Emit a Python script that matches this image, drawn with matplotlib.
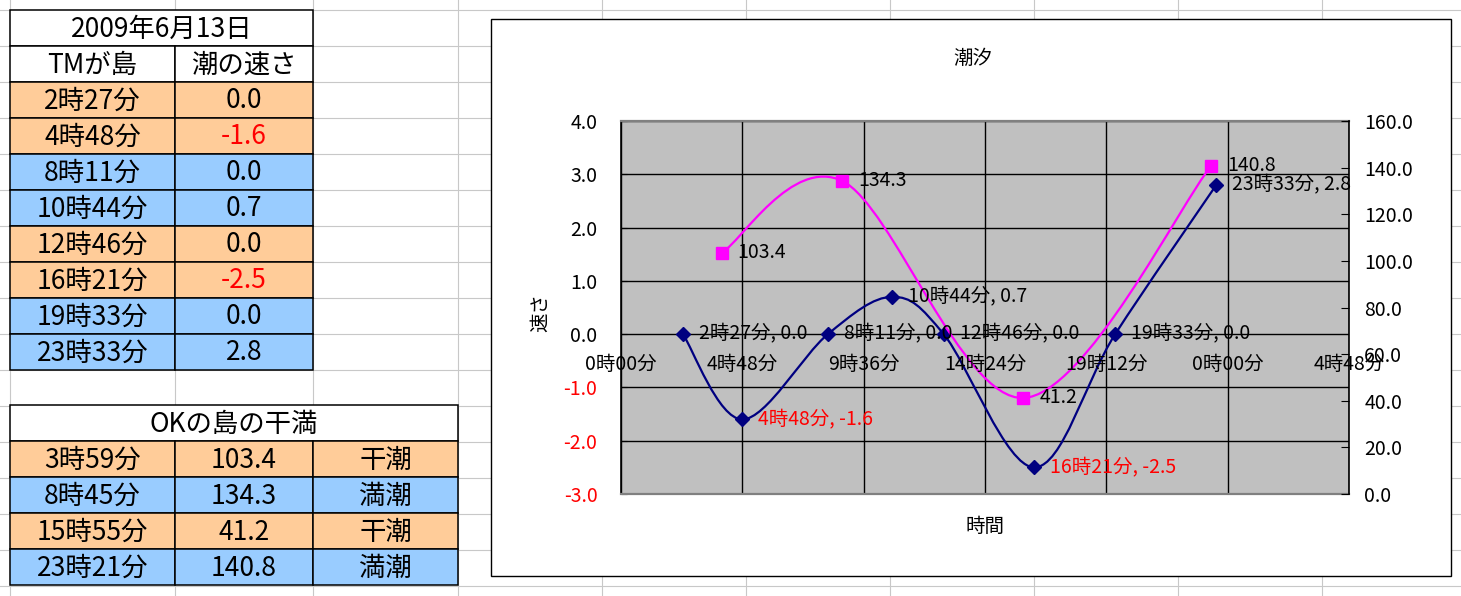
import re
import matplotlib
matplotlib.use('Agg')
import matplotlib.pyplot as plt
from matplotlib.patches import Rectangle, PathPatch
from matplotlib.path import Path

plt.rcParams['font.family'] = ['Noto Sans CJK JP', 'DejaVu Sans']
plt.rcParams['axes.unicode_minus'] = False

# ---------------- data ----------------
date_title = '2009年6月13日'
speed_header = ['TMが島', '潮の速さ']
speed_times = ['2時27分', '4時48分', '8時11分', '10時44分', '12時46分', '16時21分', '19時33分', '23時33分']
speed_values = [0.0, -1.6, 0.0, 0.7, 0.0, -2.5, 0.0, 2.8]
speed_row_kind = ['o', 'o', 'b', 'b', 'o', 'o', 'b', 'b']

tide_title = 'OKの島の干満'
tide_times = ['3時59分', '8時45分', '15時55分', '23時21分']
tide_values = [103.4, 134.3, 41.2, 140.8]
tide_kinds = ['干潮', '満潮', '干潮', '満潮']

chart_title = '潮汐'
x_title = '時間'
y_title = '速さ'
xtick_hours = [0, 4.8, 9.6, 14.4, 19.2, 24.0, 28.8]
xtick_labels = ['0時00分', '4時48分', '9時36分', '14時24分', '19時12分', '0時00分', '4時48分']
left_ticks = [-3, -2, -1, 0, 1, 2, 3, 4]
right_ticks = [0, 20, 40, 60, 80, 100, 120, 140, 160]

# ---------------- helpers ----------------
ORANGE = '#FFCC99'
BLUE = '#99CCFF'
NAVY = '#000080'
MAGENTA = '#FF00FF'
RED = '#FF0000'


def hours(label):
    h, m = re.match(r'(\d+)時(\d+)分', label).groups()
    return int(h) + int(m) / 60.0


def smooth_path(xs, ys):
    pts = list(zip(xs, ys))
    n = len(pts)
    verts = [pts[0]]
    codes = [Path.MOVETO]
    for i in range(n - 1):
        p0 = pts[max(i - 1, 0)]
        p1 = pts[i]
        p2 = pts[i + 1]
        p3 = pts[min(i + 2, n - 1)]
        c1 = (p1[0] + (p2[0] - p0[0]) / 6.0, p1[1] + (p2[1] - p0[1]) / 6.0)
        c2 = (p2[0] - (p3[0] - p1[0]) / 6.0, p2[1] - (p3[1] - p1[1]) / 6.0)
        verts += [c1, c2, p2]
        codes += [Path.CURVE4] * 3
    return Path(verts, codes)


W, H = 1461, 596
fig = plt.figure(figsize=(W / 100, H / 100), dpi=100)
fig.patch.set_facecolor('white')

# background "spreadsheet" layer in pixel coordinates
bg = fig.add_axes([0, 0, 1, 1], zorder=0)
bg.set_xlim(0, W)
bg.set_ylim(H, 0)
bg.axis('off')

GRID = '#C8C8C8'
col_lines = [10, 175, 313, 458, 602, 746, 890, 1034, 1178, 1322]
row_lines = [10 + 36 * k for k in range(17)]
for x in col_lines:
    bg.plot([x, x], [0, H], color=GRID, lw=0.8, zorder=1)
for y in row_lines:
    bg.plot([0, W], [y, y], color=GRID, lw=0.8, zorder=1)

TFS = 19


def cell(x0, x1, y0, y1, fc, text=None, color='black'):
    bg.add_patch(Rectangle((x0, y0), x1 - x0, y1 - y0, facecolor=fc,
                           edgecolor='black', lw=1.1, zorder=2))
    if text is not None:
        bg.text((x0 + x1) / 2, (y0 + y1) / 2 + 1, text, ha='center', va='center',
                fontsize=TFS, color=color, zorder=3)


# table 1
cell(10, 313, 10, 46, 'white', date_title)
cell(10, 175, 46, 82, 'white', speed_header[0])
cell(175, 313, 46, 82, 'white', speed_header[1])
for i, (t, v, k) in enumerate(zip(speed_times, speed_values, speed_row_kind)):
    y0 = 82 + 36 * i
    fc = ORANGE if k == 'o' else BLUE
    cell(10, 175, y0, y0 + 36, fc, t)
    cell(175, 313, y0, y0 + 36, fc, f'{v:.1f}', RED if v < 0 else 'black')

# table 2
cell(10, 458, 405, 441, 'white', tide_title)
for i, (t, v, k) in enumerate(zip(tide_times, tide_values, tide_kinds)):
    y0 = 441 + 36 * i
    fc = ORANGE if k == '干潮' else BLUE
    cell(10, 175, y0, y0 + 36, fc, t)
    cell(175, 313, y0, y0 + 36, fc, f'{v:.1f}')
    cell(313, 458, y0, y0 + 36, fc, k)

# chart box
bg.add_patch(Rectangle((491, 19), 960, 557, facecolor='white', edgecolor='black',
                       lw=1.0, zorder=5))
CFS = 14
bg.text(973, 58, chart_title, ha='center', va='center', fontsize=CFS, zorder=6)
bg.text(541, 312, y_title, ha='center', va='center', fontsize=CFS, rotation=90, zorder=6)
bg.text(985, 526, x_title, ha='center', va='center', fontsize=CFS, zorder=6)

# ---------------- plot area ----------------
px0, px1, py0, py1 = 621, 1349, 121, 494
ax = fig.add_axes([px0 / W, (H - py1) / H, (px1 - px0) / W, (py1 - py0) / H], zorder=2)
ax.set_facecolor('#C0C0C0')
ax.set_xlim(0, 28.8)
ax.set_ylim(-3, 4)
ax.set_xticks(xtick_hours)
ax.set_yticks(left_ticks)
ax.set_yticklabels([f'{v:.1f}' for v in left_ticks], fontsize=CFS)
for lab, v in zip(ax.get_yticklabels(), left_ticks):
    lab.set_color(RED if v < 0 else 'black')
ax.tick_params(axis='x', length=0, labelbottom=False)
ax.tick_params(axis='y', direction='in', length=4, pad=17, color='black')
ax.grid(True, color='black', lw=1.0)
ax.set_axisbelow(True)
for s in ('top', 'bottom'):
    ax.spines[s].set_color('#808080')
    ax.spines[s].set_linewidth(1.6)
ax.spines['left'].set_color('black')
ax.spines['left'].set_linewidth(1.2)
ax.spines['right'].set_visible(False)

ax2 = ax.twinx()
ax2.set_ylim(0, 160)
ax2.set_yticks(right_ticks)
ax2.set_yticklabels([f'{v:.1f}' for v in right_ticks], fontsize=CFS)
ax2.tick_params(axis='y', direction='in', length=6, pad=11, color='black')
for s in ('top', 'bottom', 'left'):
    ax2.spines[s].set_visible(False)
ax2.spines['right'].set_color('black')
ax2.spines['right'].set_linewidth(1.2)

# speed series (primary)
sx = [hours(t) for t in speed_times]
ax.add_patch(PathPatch(smooth_path(sx, speed_values), facecolor='none',
                       edgecolor=NAVY, lw=1.6, zorder=3))
ax.plot(sx, speed_values, linestyle='none', marker='D', ms=7.5, color=NAVY, zorder=4)

# tide series (secondary)
tx = [hours(t) for t in tide_times]
ax2.add_patch(PathPatch(smooth_path(tx, tide_values), facecolor='none',
                        edgecolor=MAGENTA, lw=1.6, zorder=3))
ax2.plot(tx, tide_values, linestyle='none', marker='s', ms=9, color=MAGENTA, zorder=4)

# x tick labels at the y=0 crossing
for h, lab in zip(xtick_hours, xtick_labels):
    ax2.annotate(lab, (h, 0), xycoords=ax.transData, xytext=(0, -14),
                 textcoords='offset points', ha='center', va='top',
                 fontsize=CFS, zorder=6)

# data labels
for t, x, v in zip(speed_times, sx, speed_values):
    ax2.annotate(f'{t}, {v:.1f}', (x, v), xycoords=ax.transData, xytext=(11.5, 0),
                 textcoords='offset points', ha='left', va='center',
                 fontsize=CFS, color=RED if v < 0 else 'black', zorder=6)
for x, v in zip(tx, tide_values):
    ax2.annotate(f'{v:.1f}', (x, v), xycoords=ax2.transData, xytext=(11.5, 0),
                 textcoords='offset points', ha='left', va='center',
                 fontsize=CFS, color='black', zorder=6)

fig.savefig('out.png', dpi=100)
